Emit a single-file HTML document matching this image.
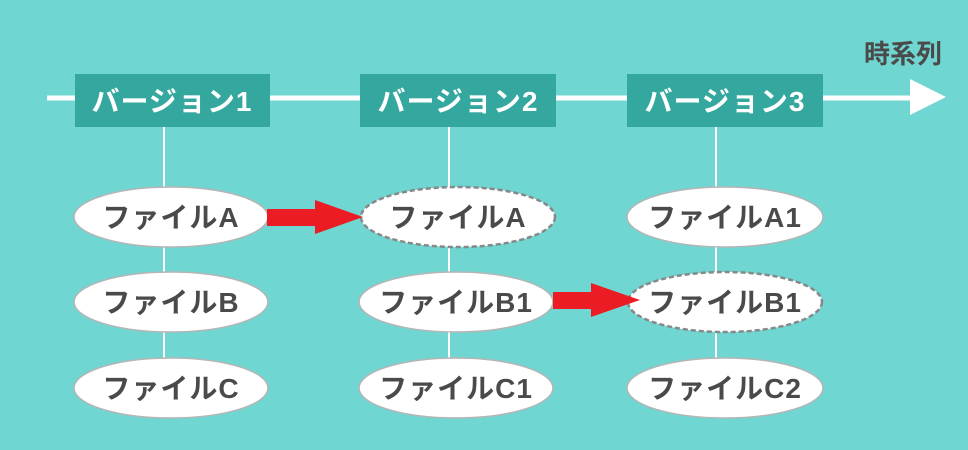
<!DOCTYPE html>
<html><head><meta charset="utf-8"><style>
html,body{margin:0;padding:0;background:#6fd6d1;}
svg{display:block}
text{font-family:"Liberation Sans","Noto Sans CJK JP",sans-serif;font-weight:bold}
</style></head><body>
<svg width="968" height="450" viewBox="0 0 968 450" xmlns="http://www.w3.org/2000/svg">
<rect width="968" height="450" fill="#6fd6d1"/>
<line x1="47" y1="98" x2="915" y2="98" stroke="#fff" stroke-width="5"/>
<polygon points="910,79 946,97 910,115" fill="#fff"/>
<text x="903" y="63" font-size="26" fill="#4a4a4a" text-anchor="middle">時系列</text>
<g stroke="#fff" stroke-width="2">
<line x1="164" y1="126" x2="164" y2="360"/>
<line x1="449" y1="126" x2="449" y2="360"/>
<line x1="716" y1="126" x2="716" y2="360"/>
</g>
<g fill="#34a89e">
<rect x="75" y="74" width="195" height="53"/>
<rect x="360" y="74" width="196" height="53"/>
<rect x="627" y="74" width="196" height="53"/>
</g>
<g fill="#fff" font-size="28" text-anchor="middle" letter-spacing="1">
<text x="172" y="111">バージョン1</text>
<text x="458" y="111">バージョン2</text>
<text x="725" y="111">バージョン3</text>
</g>
<g fill="#fff" stroke="#b5b5b5" stroke-width="1.5">
<ellipse cx="171" cy="217" rx="97" ry="30"/>
<ellipse cx="171" cy="302" rx="97" ry="30"/>
<ellipse cx="171" cy="388" rx="97" ry="30"/>
<ellipse cx="456" cy="302" rx="97" ry="30"/>
<ellipse cx="456" cy="388" rx="97" ry="30"/>
<ellipse cx="725" cy="217" rx="98" ry="30"/>
<ellipse cx="725" cy="388" rx="98" ry="30"/>
</g>
<g fill="#fff" stroke="#888" stroke-width="2.5" stroke-dasharray="5,3">
<ellipse cx="458" cy="217" rx="97" ry="30"/>
<ellipse cx="725" cy="302" rx="97" ry="30"/>
</g>
<g fill="#4a4a4a" font-size="28" text-anchor="middle" letter-spacing="1">
<text x="171" y="227">ファイルA</text>
<text x="171" y="312">ファイルB</text>
<text x="171" y="398">ファイルC</text>
<text x="458" y="227">ファイルA</text>
<text x="456" y="312">ファイルB1</text>
<text x="456" y="398">ファイルC1</text>
<text x="725" y="227">ファイルA1</text>
<text x="725" y="312">ファイルB1</text>
<text x="725" y="398">ファイルC2</text>
</g>
<g fill="#ec1c24">
<polygon points="267,209 315,209 315,200 363,217 315,234 315,226 267,226"/>
<polygon points="553,292 591,292 591,283 640,300 591,317 591,309 553,309"/>
</g>
</svg>
</body></html>
